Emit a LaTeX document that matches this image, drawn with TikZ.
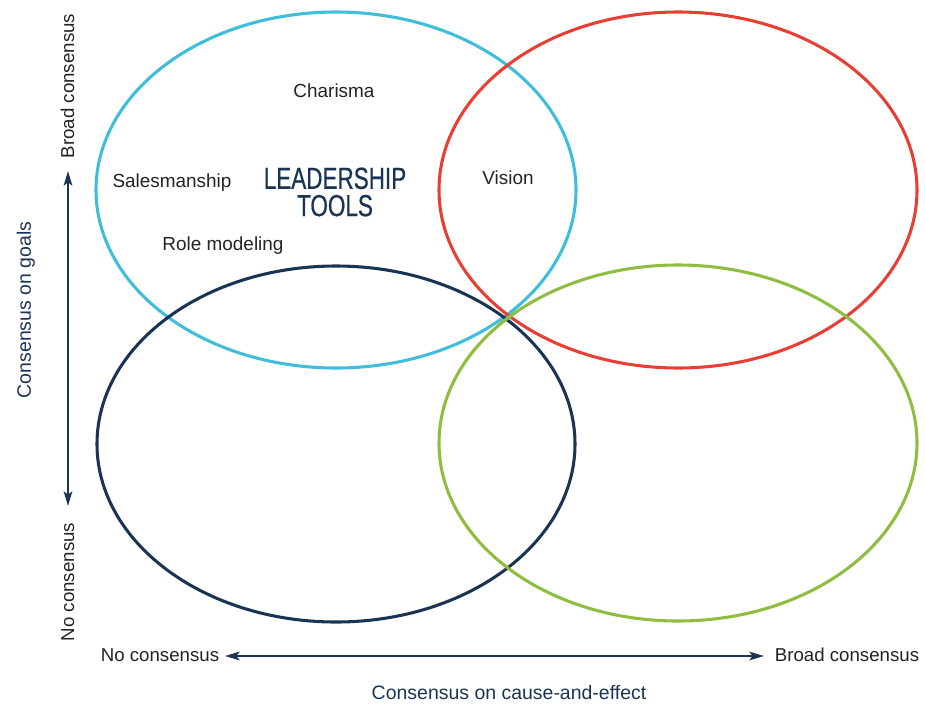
\documentclass[tikz,border=0pt]{standalone}
\usepackage{fontspec}
\setmainfont{Liberation Sans}
\newfontfamily\condfont[FakeStretch=0.74,FakeBold=0.5]{Liberation Sans}
\usetikzlibrary{arrows.meta}

\definecolor{toolcyan}{RGB}{62,190,218}
\definecolor{toolred}{RGB}{232,62,52}
\definecolor{toolnavy}{RGB}{28,52,84}
\definecolor{toolgreen}{RGB}{142,189,64}
\definecolor{tooltext}{RGB}{35,35,35}

\tikzset{
  ring/.style={line width=2.3pt},
  toollabel/.style={text=tooltext,font=\fontsize{14.2}{17}\selectfont,anchor=base,inner sep=0pt},
  endlabel/.style={text=tooltext,font=\fontsize{14}{17}\selectfont,anchor=base,inner sep=0pt},
  axistitle/.style={text=toolnavy,font=\fontsize{14.6}{17}\selectfont,anchor=base,inner sep=0pt},
  toolhead/.style={text=toolnavy,font=\condfont\fontsize{22.8}{20.5}\selectfont,align=center,inner sep=0pt},
  axisarrow/.style={draw=toolnavy,line width=1.4pt,
    {Stealth[length=11pt,width=6.5pt,inset=2.5pt]}-{Stealth[length=11pt,width=6.5pt,inset=2.5pt]}}
}

\begin{document}
\begin{tikzpicture}[x=0.75pt,y=-0.75pt]
  \useasboundingbox (0,0) rectangle (925,704);

  % the four circles
  \draw [ring,color=toolcyan]  (336,190) ellipse [x radius=240, y radius=178];
  \draw [ring,color=toolred]   (678,190) ellipse [x radius=239, y radius=178];
  \draw [ring,color=toolnavy]  (336,444) ellipse [x radius=239, y radius=178];
  \draw [ring,color=toolgreen] (678,443) ellipse [x radius=239, y radius=178];

  % tools
  \node [toollabel] (charisma) at (334,97) {Charisma};
  \node [toollabel] (sales) at (172,187) {Salesmanship};
  \node [toollabel] (role) at (223,250) {Role modeling};
  \node [toollabel] (vision) at (508,184) {Vision};
  \node [toolhead] (leader) at (335,192) {LEADERSHIP\\TOOLS};

  % vertical axis
  \node [endlabel,rotate=90] (ybroad) at (74,86) {Broad consensus};
  \node [endlabel,rotate=90] (yno) at (74,582) {No consensus};
  \node [axistitle,rotate=90] (ytitle) at (31,310) {Consensus on goals};
  \coordinate (ytop) at (68,171);
  \coordinate (ybot) at (68,506);
  \draw [axisarrow] (ytop) -- (ybot);

  % horizontal axis
  \node [endlabel] (xno) at (160,661) {No consensus};
  \node [endlabel] (xbroad) at (847,661) {Broad consensus};
  \node [axistitle] (xtitle) at (509,699) {Consensus on cause-and-effect};
  \coordinate (xleft) at (225,656);
  \coordinate (xright) at (764,656);
  \draw [axisarrow] (xleft) -- (xright);
\end{tikzpicture}
\end{document}
